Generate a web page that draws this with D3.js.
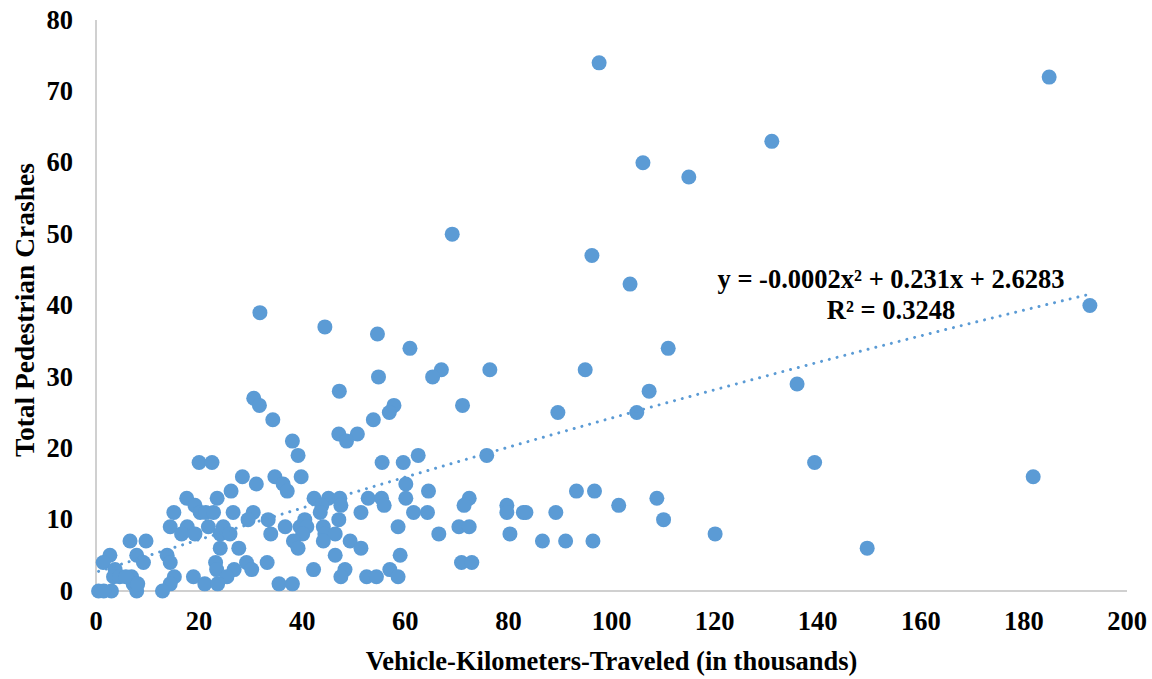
<!DOCTYPE html>
<html>
<head>
<meta charset="utf-8">
<script src="https://cdn.jsdelivr.net/npm/d3@7"></script>
<style>
  body { margin: 0; background: #fff; }
  svg text { font-family: "Liberation Serif", "Times New Roman", serif; font-weight: bold; fill: #000; }
</style>
</head>
<body>
<div id="container"></div>
<script>
/* CONSTANTS AND GLOBALS */
const width = 1152;
const height = 679;
const margin = { top: 20, right: 25, bottom: 88, left: 96 };

const pointColor = "#5b9bd5";
const axisColor = "#d0d0d0";

/* DATA */
// vehicle-kilometers-traveled (thousands)
const vkt = [
  97.6, 184.9, 131.1, 106.1, 115.0, 69.1, 96.2, 103.6, 192.8, 31.8,
  44.4, 54.6, 60.9, 111.0, 67.0, 76.4, 94.9, 65.3, 54.8, 136.0,
  47.2, 107.3, 30.6, 31.7, 57.8, 71.1, 56.9, 89.6, 104.9, 34.3,
  53.8, 47.1, 50.7, 38.1, 48.6, 39.2, 62.5, 75.8, 20.0, 22.5,
  55.5, 59.6, 139.4, 28.4, 34.7, 39.8, 181.8, 31.1, 36.3, 60.1,
  26.2, 37.1, 64.5, 93.2, 96.7, 17.6, 23.5, 42.3, 45.1, 47.3,
  52.8, 55.4, 60.1, 72.4, 108.8, 19.2, 43.8, 47.5, 55.9, 71.4,
  79.7, 101.4, 15.1, 20.2, 21.3, 22.8, 26.6, 30.5, 43.5, 51.4,
  61.6, 64.3, 79.7, 82.9, 83.4, 89.2, 29.5, 33.4, 40.5, 47.1,
  110.1, 14.4, 17.7, 21.8, 24.7, 36.7, 39.6, 40.9, 44.1, 58.6,
  70.4, 72.4, 16.6, 19.2, 24.1, 26.0, 33.9, 40.1, 44.4, 46.4,
  66.5, 80.3, 120.1, 6.6, 9.7, 38.3, 44.1, 49.3, 86.6, 91.1,
  96.4, 24.1, 27.7, 39.2, 51.4, 149.6, 2.7, 7.9, 13.8, 46.4,
  59.0, 1.4, 9.2, 14.4, 23.2, 29.2, 33.2, 70.9, 72.9, 3.7,
  23.4, 26.8, 30.2, 42.2, 48.3, 57.0, 3.4, 6.9, 15.2, 18.9,
  25.4, 47.5, 52.5, 54.4, 58.6, 14.4, 21.1, 23.6, 35.5, 38.1,
  7.2, 0.5, 3.0, 7.9, 12.9, 1.5, 4.6, 5.8, 8.1
];
// total pedestrian crashes
const crashes = [
  74, 72, 63, 60, 58, 50, 47, 43, 40, 39,
  37, 36, 34, 34, 31, 31, 31, 30, 30, 29,
  28, 28, 27, 26, 26, 26, 25, 25, 25, 24,
  24, 22, 22, 21, 21, 19, 19, 19, 18, 18,
  18, 18, 18, 16, 16, 16, 16, 15, 15, 15,
  14, 14, 14, 14, 14, 13, 13, 13, 13, 13,
  13, 13, 13, 13, 13, 12, 12, 12, 12, 12,
  12, 12, 11, 11, 11, 11, 11, 11, 11, 11,
  11, 11, 11, 11, 11, 11, 10, 10, 10, 10,
  10, 9, 9, 9, 9, 9, 9, 9, 9, 9,
  9, 9, 8, 8, 8, 8, 8, 8, 8, 8,
  8, 8, 8, 7, 7, 7, 7, 7, 7, 7,
  7, 6, 6, 6, 6, 6, 5, 5, 5, 5,
  5, 4, 4, 4, 4, 4, 4, 4, 4, 3,
  3, 3, 3, 3, 3, 3, 2, 2, 2, 2,
  2, 2, 2, 2, 2, 1, 1, 1, 1, 1,
  1, 0, 0, 0, 0, 0, 2, 2, 1
];

const xTicks = [0, 20, 40, 60, 80, 100, 120, 140, 160, 180, 200];
const yTicks = [0, 10, 20, 30, 40, 50, 60, 70, 80];

// polynomial trendline (order 2): a*x^2 + b*x + c
const trendCoef = [-0.00015, 0.231, 2.6283];
const trendLabel = ["y = -0.0002x\u00B2 + 0.231x + 2.6283", "R\u00B2 = 0.3248"];

const points = vkt.map((v, i) => ({ x: v, y: crashes[i] }));

/* SCALES */
const xScale = d3.scaleLinear()
  .domain([0, 200])
  .range([margin.left, width - margin.right]);

const yScale = d3.scaleLinear()
  .domain([0, 80])
  .range([height - margin.bottom, margin.top]);

/* SVG */
const svg = d3.select("#container")
  .append("svg")
  .attr("width", width)
  .attr("height", height);

// axes lines
svg.append("line")
  .attr("x1", xScale(0)).attr("x2", xScale(0))
  .attr("y1", yScale(0)).attr("y2", yScale(80))
  .attr("stroke", axisColor).attr("stroke-width", 2);

svg.append("line")
  .attr("x1", xScale(0)).attr("x2", xScale(200))
  .attr("y1", yScale(0)).attr("y2", yScale(0))
  .attr("stroke", axisColor).attr("stroke-width", 2);

// tick labels
svg.selectAll(".xtick")
  .data(xTicks)
  .join("text")
  .attr("class", "xtick")
  .attr("x", d => xScale(d))
  .attr("y", yScale(0) + 39)
  .attr("text-anchor", "middle")
  .style("font-size", "26.5px")
  .text(d => d);

svg.selectAll(".ytick")
  .data(yTicks)
  .join("text")
  .attr("class", "ytick")
  .attr("x", 73)
  .attr("y", d => yScale(d))
  .attr("dy", "0.33em")
  .attr("text-anchor", "end")
  .style("font-size", "26.5px")
  .text(d => d);

// points
svg.selectAll(".dot")
  .data(points)
  .join("circle")
  .attr("class", "dot")
  .attr("cx", d => xScale(d.x))
  .attr("cy", d => yScale(d.y))
  .attr("r", 7.5)
  .attr("fill", pointColor);

// trendline
const xMin = d3.min(vkt), xMax = d3.max(vkt);
const trendData = d3.range(0, 101).map(i => {
  const x = xMin + (xMax - xMin) * i / 100;
  return { x, y: trendCoef[0] * x * x + trendCoef[1] * x + trendCoef[2] };
});

svg.append("path")
  .datum(trendData)
  .attr("fill", "none")
  .attr("stroke", pointColor)
  .attr("stroke-width", 3)
  .attr("stroke-linecap", "round")
  .attr("stroke-dasharray", "0.01 8")
  .attr("d", d3.line().x(d => xScale(d.x)).y(d => yScale(d.y)));

// equation label
svg.selectAll(".eq")
  .data(trendLabel)
  .join("text")
  .attr("class", "eq")
  .attr("x", 891)
  .attr("y", (d, i) => 288 + i * 31)
  .attr("text-anchor", "middle")
  .style("font-size", "26.5px")
  .text(d => d);

// axis titles
svg.append("text")
  .attr("x", (xScale(0) + xScale(200)) / 2)
  .attr("y", 670)
  .attr("text-anchor", "middle")
  .style("font-size", "26.5px")
  .text("Vehicle-Kilometers-Traveled (in thousands)");

svg.append("text")
  .attr("transform", "translate(34, 310) rotate(-90)")
  .attr("text-anchor", "middle")
  .style("font-size", "27.5px")
  .text("Total Pedestrian Crashes");
</script>
</body>
</html>
